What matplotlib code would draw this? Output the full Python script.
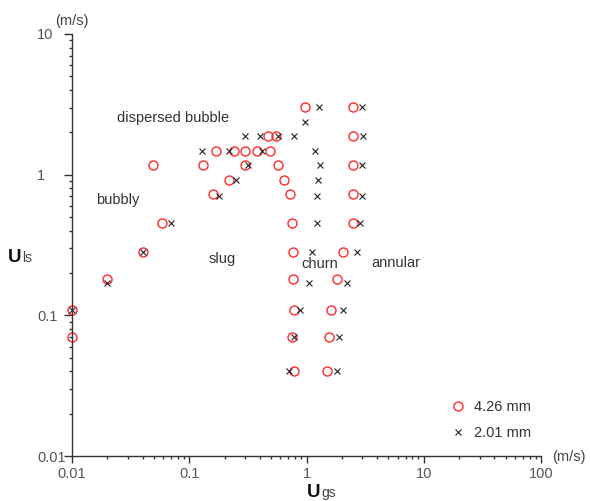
import matplotlib
matplotlib.use("Agg")
import matplotlib.pyplot as plt
from matplotlib.ticker import LogLocator, FixedLocator, NullFormatter, FuncFormatter

plt.rcParams['font.family'] = ['Liberation Sans', 'DejaVu Sans']

# 4.26 mm tube (red circles)
ugs_426 = [0.01, 0.01, 0.02, 0.04, 0.058, 0.049, 0.13, 0.16, 0.22, 0.17,
           0.24, 0.30, 0.38, 0.49, 0.47, 0.55, 0.30, 0.57, 0.64, 0.72,
           0.97, 2.5, 2.5, 2.5, 2.5, 2.5, 0.75, 0.76, 0.77, 0.785,
           0.75, 0.78, 2.06, 1.83, 1.62, 1.55, 1.5]
uls_426 = [0.11, 0.07, 0.18, 0.28, 0.45, 1.17, 1.17, 0.73, 0.92, 1.47,
           1.47, 1.47, 1.47, 1.47, 1.89, 1.89, 1.17, 1.17, 0.92, 0.73,
           3.04, 3.04, 1.89, 1.17, 0.73, 0.45, 0.45, 0.28, 0.18, 0.11,
           0.07, 0.04, 0.28, 0.18, 0.11, 0.07, 0.04]

# 2.01 mm tube (black crosses)
ugs_201 = [0.01, 0.02, 0.04, 0.07, 0.128, 0.217, 0.42, 0.30, 0.40, 0.57,
           0.78, 0.98, 1.28, 3.0, 3.05, 1.18, 1.30, 2.95, 0.32, 0.25,
           1.26, 0.18, 1.24, 3.0, 1.24, 2.86, 1.12, 2.7, 1.06, 2.2,
           0.88, 2.06, 0.78, 1.9, 0.71, 1.81]
uls_201 = [0.11, 0.17, 0.28, 0.45, 1.47, 1.47, 1.47, 1.89, 1.89, 1.89,
           1.89, 2.38, 3.04, 3.04, 1.89, 1.47, 1.17, 1.17, 1.17, 0.92,
           0.92, 0.71, 0.71, 0.71, 0.45, 0.45, 0.28, 0.28, 0.17, 0.17,
           0.11, 0.11, 0.07, 0.07, 0.04, 0.04]

# flow regime names and where they sit
regimes = ["dispersed bubble", "bubbly", "slug", "churn", "annular"]
regime_x = [0.0726, 0.0244, 0.19, 1.29, 5.8]
regime_y = [2.52, 0.66, 0.251, 0.232, 0.235]

x_ticks = [0.01, 0.1, 1, 10, 100]
y_ticks = [0.01, 0.1, 1, 10]
tick_names = {0.01: "0.01", 0.1: "0.1", 1: "1", 10: "10", 100: "100"}

W, H = 590, 501
fig = plt.figure(figsize=(W / 100, H / 100), dpi=100)
ax = fig.add_axes([72 / W, 1 - 456 / H, 469 / W, 422 / H])

ax.plot(ugs_426, uls_426, linestyle="none", marker="o", markersize=6.5,
        markerfacecolor="none", markeredgecolor="#ff2a2a",
        markeredgewidth=1.0, clip_on=False, label="4.26 mm")
ax.plot(ugs_201, uls_201, linestyle="none", marker="x", markersize=4.5,
        color="#222222", markeredgewidth=0.8, clip_on=False, label="2.01 mm")

ax.set_xscale("log")
ax.set_yscale("log")
ax.set_xlim(0.01, 100)
ax.set_ylim(0.01, 10)

for axis, ticks in ((ax.xaxis, x_ticks), (ax.yaxis, y_ticks)):
    axis.set_major_locator(FixedLocator(ticks))
    axis.set_minor_locator(LogLocator(base=10, subs=range(2, 10)))
    axis.set_minor_formatter(NullFormatter())
    axis.set_major_formatter(FuncFormatter(lambda v, p: tick_names.get(round(v, 3), "")))

for side in ("top", "right"):
    ax.spines[side].set_visible(False)
for side in ("left", "bottom"):
    ax.spines[side].set_color("#333333")
    ax.spines[side].set_linewidth(1.0)

ax.tick_params(axis="x", which="major", direction="out", length=5, width=1,
               color="#333333", labelcolor="#555555", labelsize=10.5, pad=2.8)
ax.tick_params(axis="x", which="minor", direction="out", length=2.2, width=1,
               color="#333333")
ax.tick_params(axis="y", which="major", direction="out", length=5.8, width=1,
               color="#333333", labelcolor="#555555", labelsize=10.5, pad=19.4)
ax.tick_params(axis="y", which="minor", direction="out", length=2.5, width=1,
               color="#333333")
plt.setp(ax.get_yticklabels(), ha="left")

for name, x, y in zip(regimes, regime_x, regime_y):
    ax.text(x, y, name, ha="center", va="center", fontsize=10.5, color="#333333")

# axis titles with subscripts
fig.text(307 / W, 1 - 497 / H, "U", fontsize=13.5, fontweight="bold",
         color="#111111", ha="left", va="baseline")
fig.text(321 / W, 1 - 497 / H, "gs", fontsize=10, color="#444444",
         ha="left", va="baseline")
fig.text(8 / W, 1 - 262 / H, "U", fontsize=13.5, fontweight="bold",
         color="#111111", ha="left", va="baseline")
fig.text(22 / W, 1 - 262 / H, "ls", fontsize=10, color="#444444",
         ha="left", va="baseline")

fig.text(72 / W, 1 - 21 / H, "(m/s)", fontsize=10.5, color="#444444",
         ha="center", va="center")
fig.text(569 / W, 1 - 457 / H, "(m/s)", fontsize=10.5, color="#444444",
         ha="center", va="center")

ax.legend(loc="upper left", bbox_to_anchor=((451 - 72) / 469, (456 - 400) / 422),
          frameon=False, borderpad=0, borderaxespad=0, handlelength=1.0,
          handletextpad=0.6, labelspacing=0.82, fontsize=10.5, numpoints=1,
          labelcolor="#333333")

fig.savefig("out.png", dpi=100)
